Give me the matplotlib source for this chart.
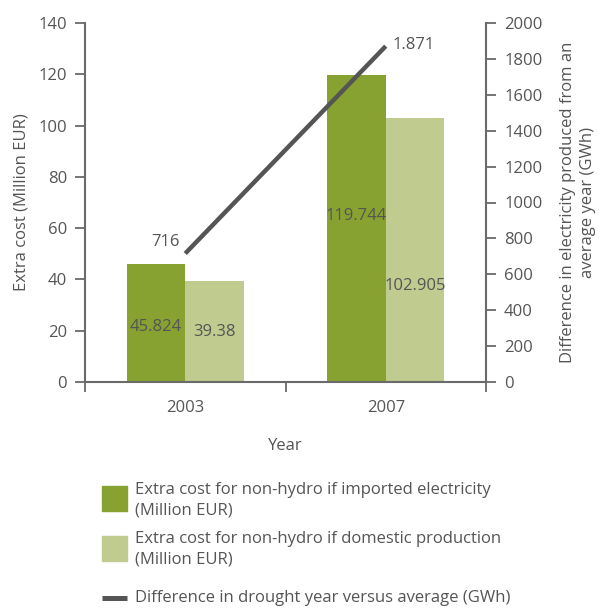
import matplotlib
matplotlib.use("Agg")
import matplotlib.pyplot as plt
from matplotlib.patches import Rectangle
from matplotlib.lines import Line2D
import numpy as np

plt.rcParams['font.family'] = ['Open Sans', 'DejaVu Sans']

years = ["2003", "2007"]
imported = [45.824, 119.744]
domestic = [39.38, 102.905]
drought_gwh = [716, 1871]
imported_labels = ["45.824", "119.744"]
domestic_labels = ["39.38", "102.905"]
drought_labels = ["716", "1.871"]
left_ticks = [0, 20, 40, 60, 80, 100, 120, 140]
right_ticks = [0, 200, 400, 600, 800, 1000, 1200, 1400, 1600, 1800, 2000]

DARK = "#87a231"
LIGHT = "#bfcb8f"
LINE = "#555555"
TXT = "#555555"
SPINE = "#6a6a6a"
FS = 12

W, H = 599, 609
fig = plt.figure(figsize=(W / 100, H / 100), dpi=100)
ax = fig.add_axes([85 / W, 1 - 382 / H, (486 - 85) / W, (382 - 23) / H])
ax2 = ax.twinx()

x = np.arange(len(years))
bw = 0.292
ax.bar(x - bw / 2, imported, width=bw, color=DARK, zorder=2)
ax.bar(x + bw / 2, domestic, width=bw, color=LIGHT, zorder=2)

ax.set_xlim(-0.5, 1.5)
ax.set_ylim(0, 140)
ax.set_yticks(left_ticks)
ax.set_xticks([-0.5, 0.5, 1.5])
ax.set_xticklabels([])
ax.set_xticks(x, minor=True)
ax.set_xticklabels(years, minor=True)
ax.tick_params(axis='x', which='minor', length=0, pad=13, labelsize=FS, labelcolor=TXT)
ax.tick_params(axis='x', which='major', length=7, width=1.3, color=SPINE, direction='out')
ax.tick_params(axis='y', length=7, width=1.3, color=SPINE, labelsize=FS, labelcolor=TXT, pad=6)

for s in ['top', 'right']:
    ax.spines[s].set_visible(False)
for s in ['left', 'bottom']:
    ax.spines[s].set_color(SPINE)
    ax.spines[s].set_linewidth(1.5)

ax.set_ylabel("Extra cost (Million EUR)", fontsize=FS, color=TXT, labelpad=6)
ax.set_xlabel("Year", fontsize=FS, color=TXT, labelpad=16)

# bar value labels (positions as fraction of bar height)
imp_frac = [0.465, 0.54]
dom_frac = [0.495, 0.365]
for i in range(len(years)):
    ax.text(x[i] - bw / 2, imported[i] * imp_frac[i], imported_labels[i], ha='center', va='center',
            fontsize=FS, color=TXT, zorder=3)
    ax.text(x[i] + bw / 2, domestic[i] * dom_frac[i], domestic_labels[i], ha='center', va='center',
            fontsize=FS, color=TXT, zorder=3)

ax2.plot(x, drought_gwh, color=LINE, linewidth=3.2, solid_capstyle='butt', zorder=4)
ax2.set_ylim(0, 2000)
ax2.set_yticks(right_ticks)
ax2.tick_params(axis='y', length=7, width=1.3, color=SPINE, labelsize=FS, labelcolor=TXT, pad=6)
for s in ['top', 'left', 'bottom']:
    ax2.spines[s].set_visible(False)
ax2.spines['right'].set_color(SPINE)
ax2.spines['right'].set_linewidth(1.5)
ax2.set_ylabel("Difference in electricity produced from an\naverage year (GWh)", fontsize=FS,
               color=TXT, labelpad=13, linespacing=1.28)

ax2.annotate(drought_labels[0], (x[0], drought_gwh[0]), xytext=(-14.5, 8), textcoords='offset points',
             ha='center', va='center', fontsize=FS, color=TXT)
ax2.annotate(drought_labels[1], (x[1], drought_gwh[1]), xytext=(20, 1), textcoords='offset points',
             ha='center', va='center', fontsize=FS, color=TXT)

# legend drawn manually in figure pixels
def fx(px):
    return px / W

def fy(py):
    return 1 - py / H

fig.add_artist(Rectangle((fx(102), fy(511)), fx(127) - fx(102), fy(486) - fy(511),
                         transform=fig.transFigure, color=DARK))
fig.add_artist(Rectangle((fx(102), fy(561)), fx(127) - fx(102), fy(536) - fy(561),
                         transform=fig.transFigure, color=LIGHT))
fig.add_artist(Line2D([fx(102), fx(127)], [fy(598), fy(598)], transform=fig.transFigure,
                      color=LINE, linewidth=3.6, solid_capstyle='butt'))
fig.text(fx(135), fy(500.5), "Extra cost for non-hydro if imported electricity\n(Million EUR)",
         ha='left', va='center', fontsize=FS, color=TXT, linespacing=1.38)
fig.text(fx(135), fy(549), "Extra cost for non-hydro if domestic production\n(Million EUR)",
         ha='left', va='center', fontsize=FS, color=TXT, linespacing=1.38)
fig.text(fx(135), fy(598), "Difference in drought year versus average (GWh)",
         ha='left', va='center', fontsize=FS, color=TXT)

fig.savefig("out.png", dpi=100)
